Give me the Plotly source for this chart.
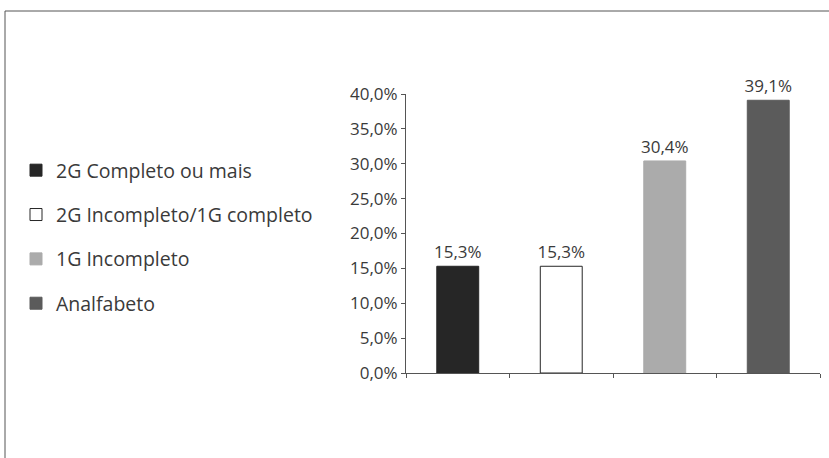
import plotly.graph_objects as go

# Escolaridade (share of respondents, %)
categorias = ["2G Completo ou mais", "2G Incompleto/1G completo", "1G Incompleto", "Analfabeto"]
valores = [15.3, 15.3, 30.4, 39.1]
cores = ["#262626", "#ffffff", "#ababab", "#5b5b5b"]
bordas = ["#262626", "#262626", "#ababab", "#5b5b5b"]
ticks_y = [0, 5, 10, 15, 20, 25, 30, 35, 40]
ticks_y_txt = ["0,0%", "5,0%", "10,0%", "15,0%", "20,0%", "25,0%", "30,0%", "35,0%", "40,0%"]

W, H = 829, 458
L, R, T, B = 406, 9, 94, 85
pw, ph = W - L - R, H - T - B

FONTE = "Open Sans"
COR_TXT = "#3a3a3a"

fig = go.Figure()
for i, (nome, v) in enumerate(zip(categorias, valores)):
    fig.add_trace(go.Bar(
        x=[i], y=[v], name=nome, width=0.405,
        marker=dict(color=cores[i], line=dict(color=bordas[i], width=1)),
        text=[v], texttemplate="%{y:.1f}%", textposition="outside",
        textfont=dict(size=17, color=COR_TXT), cliponaxis=False,
        constraintext="none",
        legendgroup=nome,
    ))

# frame around the whole figure (left and top edges visible)
def px_x(p):
    return (p - L) / pw

def px_y(p):
    return (H - B - p) / ph

fig.add_shape(type="rect", xref="paper", yref="paper",
              x0=px_x(5), x1=px_x(W + 20), y0=px_y(H + 20), y1=px_y(11),
              line=dict(color="#555555", width=1), fillcolor="rgba(0,0,0,0)")

fig.update_layout(
    width=W, height=H,
    margin=dict(l=L, r=R, t=T, b=B),
    paper_bgcolor="white", plot_bgcolor="white",
    font=dict(family=FONTE, color=COR_TXT, size=16),
    separators=",.",
    barmode="overlay",
    showlegend=True,
    legend=dict(x=px_x(16), xanchor="left", y=px_y(151), yanchor="top",
                font=dict(size=19.5, color=COR_TXT),
                tracegroupgap=16, bgcolor="rgba(0,0,0,0)"),
    xaxis=dict(range=[-0.5, 3.5], tickvals=[-0.5, 0.5, 1.5, 2.5, 3.5],
               showticklabels=False, showline=True, linecolor="#555555", linewidth=1,
               ticks="outside", ticklen=4, tickcolor="#555555",
               showgrid=False, zeroline=False),
    yaxis=dict(range=[0, 40], tickvals=ticks_y, ticktext=ticks_y_txt,
               showline=True, linecolor="#555555", linewidth=1,
               ticks="outside", ticklen=4, tickcolor="#555555",
               showgrid=False, zeroline=False,
               tickfont=dict(size=17, color=COR_TXT)),
)

fig.write_html("out.html")
